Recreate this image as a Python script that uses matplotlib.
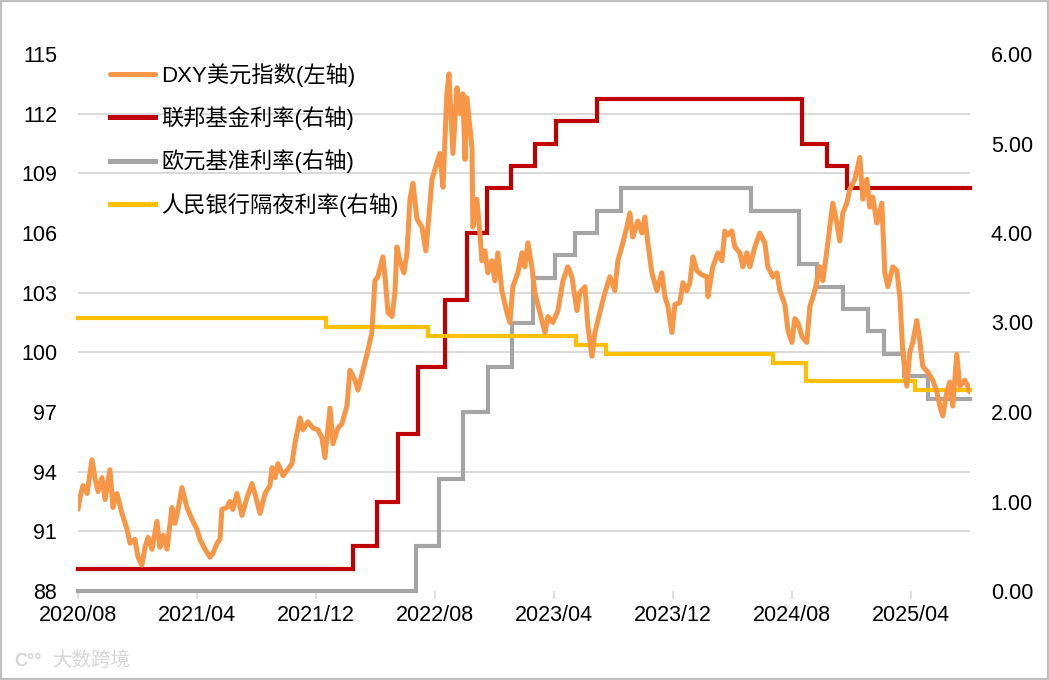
import matplotlib
matplotlib.use('Agg')
import matplotlib.pyplot as plt
from matplotlib.patches import Rectangle

plt.rcParams['font.family'] = ['Liberation Sans', 'Noto Sans CJK SC', 'DejaVu Sans']

# ---------------- data ----------------
x_ticks = [0, 8, 16, 24, 32, 40, 48, 56]
x_labels = ['2020/08', '2021/04', '2021/12', '2022/08', '2023/04', '2023/12', '2024/08', '2025/04']
left_ticks = [88, 91, 94, 97, 100, 103, 106, 109, 112, 115]
right_ticks = [0, 1, 2, 3, 4, 5, 6]

# months since 2020/08
dxy_month = [0.00, 0.13, 0.34, 0.61, 0.94, 1.14, 1.35, 1.61, 1.82, 2.15, 2.35, 2.62, 2.96, 3.30, 3.50, 3.83,
             4.04, 4.30, 4.51, 4.71, 4.98, 5.31, 5.51, 5.72, 5.99, 6.32, 6.52, 6.73, 6.99, 7.33, 7.67, 8.00,
             8.20, 8.54, 8.88, 9.08, 9.35, 9.55, 9.68, 10.02, 10.22, 10.42, 10.69, 11.03, 11.37, 11.70, 11.90,
             12.24, 12.58, 12.91, 13.05, 13.25, 13.45, 13.79, 14.39, 14.59, 14.93, 15.13, 15.47, 15.80, 16.14,
             16.41, 16.61, 16.95, 17.15, 17.48, 17.75, 18.09, 18.29, 18.63, 18.83, 19.17, 19.50, 19.77, 19.97,
             20.17, 20.51, 20.65, 20.85, 21.12, 21.32, 21.45, 21.65, 21.92, 22.13, 22.33, 22.53, 22.80, 23.13,
             23.40, 23.54, 23.81, 24.01, 24.34, 24.55, 24.81, 24.95, 25.22, 25.49, 25.69, 25.89, 26.03, 26.16,
             26.50, 26.56, 26.83, 27.03, 27.17, 27.37, 27.57, 27.84, 28.04, 28.24, 28.51, 28.85, 29.05, 29.25,
             29.59, 29.86, 30.06, 30.26, 30.53, 30.73, 31.07, 31.41, 31.61, 31.94, 32.28, 32.62, 32.95, 33.22,
             33.56, 33.76, 34.10, 34.30, 34.57, 34.77, 35.10, 35.44, 35.78, 36.11, 36.31, 36.65, 36.92, 37.12,
             37.32, 37.66, 37.93, 38.13, 38.33, 38.60, 38.94, 39.27, 39.48, 39.68, 39.95, 40.15, 40.48, 40.69,
             40.95, 41.16, 41.36, 41.63, 41.96, 42.30, 42.37, 42.70, 43.04, 43.31, 43.51, 43.71, 43.98, 44.18,
             44.52, 44.72, 44.99, 45.19, 45.53, 45.86, 46.20, 46.40, 46.74, 47.01, 47.21, 47.55, 47.75, 48.02,
             48.22, 48.42, 48.69, 49.02, 49.23, 49.56, 49.90, 50.10, 50.37, 50.57, 50.77, 51.04, 51.24, 51.44,
             51.71, 51.92, 52.25, 52.59, 52.79, 53.06, 53.26, 53.46, 53.73, 54.07, 54.27, 54.47, 54.81, 55.08,
             55.28, 55.48, 55.75, 55.95, 56.15, 56.42, 56.62, 56.82, 57.16, 57.50, 57.77, 57.97, 58.17, 58.44,
             58.64, 58.84, 59.11, 59.31, 59.65, 59.85, 60.00]
dxy_value = [92.1, 92.7, 93.3, 92.9, 94.6, 93.7, 93.0, 93.7, 92.6, 94.1, 92.2, 92.9, 91.9, 91.1, 90.4, 90.6,
             89.7, 89.3, 90.2, 90.7, 90.1, 91.5, 90.2, 90.8, 90.1, 92.2, 91.4, 92.1, 93.2, 92.2, 91.6, 91.1,
             90.6, 90.1, 89.7, 89.9, 90.4, 90.6, 92.1, 92.2, 92.5, 92.1, 92.9, 91.8, 92.7, 93.4, 92.9,
             91.9, 92.9, 93.3, 94.2, 93.7, 94.4, 93.8, 94.4, 95.4, 96.7, 96.1, 96.5, 96.2, 96.1,
             95.7, 94.7, 97.2, 95.4, 96.2, 96.4, 97.3, 99.1, 98.6, 98.1, 99.1, 100.1, 101.0, 103.6,
             103.8, 104.8, 103.8, 102.0, 101.8, 103.0, 105.3, 104.6, 104.0, 105.0, 107.7, 108.5, 106.7, 106.3,
             105.1, 106.3, 108.7, 109.2, 110.0, 108.3, 113.0, 114.0, 110.0, 113.3, 112.0, 113.0, 109.7, 112.8,
             110.3, 106.3, 107.7, 106.0, 104.6, 105.1, 104.0, 104.6, 103.6, 105.0, 103.1, 102.0, 101.5, 103.3,
             104.0, 105.0, 104.3, 105.5, 104.3, 103.0, 102.0, 101.0, 101.8, 101.5, 102.1, 103.6, 104.3, 103.8,
             102.1, 103.0, 103.3, 101.3, 99.8, 101.0, 102.0, 103.0, 103.8, 103.1, 104.6, 105.5, 106.3, 107.0,
             105.8, 106.6, 106.0, 106.8, 105.5, 104.0, 103.1, 104.0, 102.8, 102.3, 101.0, 102.4, 102.5, 103.5,
             103.1, 103.5, 104.8, 104.1, 103.9, 103.8, 102.8, 104.3, 105.0, 104.6, 106.1, 105.9, 106.1, 105.3,
             105.0, 104.3, 105.0, 104.3, 105.3, 106.0, 105.5, 104.3, 103.8, 104.0, 103.1, 102.4, 101.1, 100.5,
             101.7, 101.5, 100.8, 100.5, 102.3, 103.1, 104.3, 103.6, 105.1, 106.3, 107.5, 106.5, 105.6, 107.0,
             107.5, 108.2, 108.7, 109.8, 107.7, 108.7, 107.3, 107.8, 106.5, 107.5, 104.0, 103.3, 104.3, 104.1,
             102.8, 100.0, 98.3, 100.0, 100.5, 101.6, 100.6, 99.3, 99.0, 98.6, 98.0, 97.3, 96.8, 98.0,
             98.5, 97.3, 99.9, 98.3, 98.6, 98.3, 98.0]

fed_month = [0, 18.49, 20.11, 21.52, 22.87, 24.68, 26.16, 27.50, 29.12, 30.73, 32.15, 34.90, 48.69, 50.37, 51.72, 60]
fed_rate = [0.25, 0.5, 1.0, 1.75, 2.5, 3.25, 4.0, 4.5, 4.75, 5.0, 5.25, 5.5, 5.0, 4.75, 4.5, 4.5]

ecb_month = [0, 22.73, 24.28, 25.89, 27.57, 29.19, 30.60, 32.08, 33.42, 34.90, 36.52, 45.26, 48.49, 49.70,
             51.44, 53.13, 54.20, 55.55, 57.16, 60]
ecb_rate = [0, 0.5, 1.25, 2.0, 2.5, 3.0, 3.5, 3.75, 4.0, 4.25, 4.5, 4.25, 3.65, 3.40, 3.15, 2.90, 2.65, 2.40, 2.15, 2.15]

pboc_month = [0, 16.68, 23.54, 33.49, 35.51, 46.74, 48.96, 56.29, 60]
pboc_rate = [3.05, 2.95, 2.85, 2.75, 2.65, 2.55, 2.35, 2.25, 2.25]

labels = ['DXY美元指数(左轴)', '联邦基金利率(右轴)', '欧元基准利率(右轴)', '人民银行隔夜利率(右轴)']
colors = ['#F79646', '#C00000', '#A5A5A5', '#FFC000']

# ---------------- figure ----------------
W, H = 1049, 680
fig = plt.figure(figsize=(W / 100, H / 100), dpi=100)
fig.patch.set_facecolor('white')

L, R, T, B = 78, 970, 54, 591
ax_r = fig.add_axes([L / W, 1 - B / H, (R - L) / W, (B - T) / H])
ax_l = ax_r.twinx()
ax_r.yaxis.tick_right()
ax_l.yaxis.tick_left()

for a in (ax_r, ax_l):
    for s in a.spines.values():
        s.set_visible(False)

# rates (right axis, drawn below)
kw = dict(drawstyle='steps-post', lw=3.0, solid_joinstyle='miter', clip_on=False)
h_fed, = ax_r.plot(fed_month, fed_rate, color=colors[1], **kw)
h_ecb, = ax_r.plot(ecb_month, ecb_rate, color=colors[2], **kw)
h_pboc, = ax_r.plot(pboc_month, pboc_rate, color=colors[3], **kw)
ax_r.set_ylim(0, 6)
ax_r.set_yticks(right_ticks)
ax_r.set_yticklabels([f'{v:.2f}' for v in right_ticks])

# DXY (left axis, on top)
h_dxy, = ax_l.plot(dxy_month, dxy_value, color=colors[0], lw=3.6, solid_joinstyle='round', solid_capstyle='round')
ax_l.set_ylim(88, 115)
ax_l.set_yticks(left_ticks)

# grid lines that follow the left-axis ticks, drawn beneath all lines
ax_r.set_yticks([(v - 88) * 6 / 27 for v in left_ticks], minor=True)
ax_r.grid(which='minor', axis='y', color='#d9d9d9', lw=1.4, zorder=0)
ax_r.grid(which='major', visible=False)
ax_r.tick_params(axis='y', which='minor', length=0)

ax_r.set_xlim(0, 60)
ax_r.set_xticks(x_ticks)
ax_r.set_xticklabels(x_labels)

ax_r.tick_params(axis='x', which='major', length=6, width=1.2, color='#d9d9d9', pad=4, labelsize=15.5, labelcolor='#000000')
ax_r.tick_params(axis='y', which='major', length=0, pad=15, labelsize=15.5)
ax_l.tick_params(axis='y', length=0, pad=15, labelsize=15.5)

leg = ax_l.legend([h_dxy, h_fed, h_ecb, h_pboc], labels, loc='upper left',
                  bbox_to_anchor=(0.026, 1.0), frameon=False, fontsize=16,
                  handlelength=2.0, handletextpad=0.3, labelspacing=0.88, borderaxespad=0)
for ln in leg.get_lines():
    ln.set_linewidth(3.6)

# watermark
fig.text(14 / W, 1 - 661 / H, 'C°°', color='#d6d6d6', fontsize=13, va='center', ha='left', fontweight='bold')
fig.text(52 / W, 1 - 661 / H, '大数跨境', color='#d6d6d6', fontsize=14, va='center', ha='left')

# outer frame
fig.patches.append(Rectangle((0, 0), 1, 1, transform=fig.transFigure, fill=False,
                             edgecolor='#bfbfbf', linewidth=3))

fig.savefig('out.png', dpi=100)
